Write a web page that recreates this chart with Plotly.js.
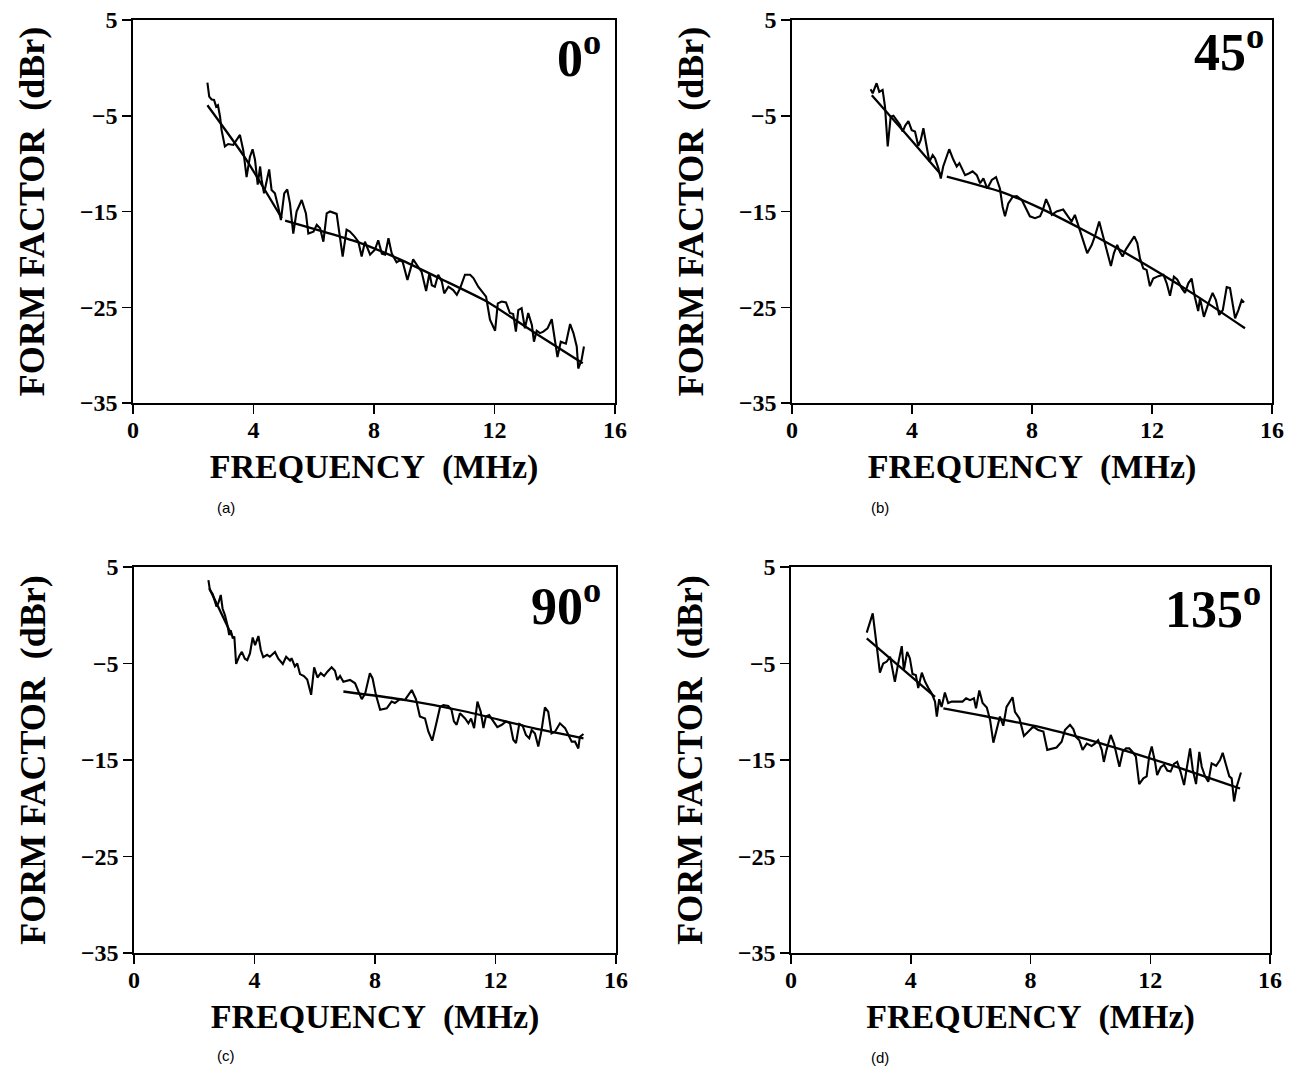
<!DOCTYPE html>
<html>
<head>
<meta charset="utf-8">
<script src="https://cdn.plot.ly/plotly-3.0.1.min.js"></script>
<style>html,body{margin:0;padding:0;background:#fff;}#chart{width:1302px;height:1075px;}</style>
</head>
<body>
<div id="chart"></div>
<script>
// ---------------- data ----------------
const xTicks = [0, 4, 8, 12, 16];
const yTicks = [5, -5, -15, -25, -35];
const panelAngles = ["0", "45", "90", "135"];
const panelCaptions = ["(a)", "(b)", "(c)", "(d)"];

// (a) 0 degrees
const aX = [2.47,2.53,2.61,2.69,2.76,2.82,2.89,2.94,3.05,3.16,3.33,3.44,3.55,3.66,3.77,3.88,3.97,4.05,4.14,4.22,4.27,4.35,4.44,4.52,4.6,4.71,4.82,4.91,5.02,5.12,5.21,5.32,5.43,5.6,5.74,5.82,5.99,6.1,6.21,6.32,6.43,6.54,6.76,6.87,6.96,7.09,7.2,7.35,7.48,7.59,7.7,7.87,8.03,8.14,8.26,8.37,8.48,8.59,8.75,8.86,8.95,9.11,9.3,9.47,9.58,9.73,9.84,9.92,10.02,10.13,10.25,10.33,10.47,10.63,10.75,10.86,11.02,11.19,11.3,11.46,11.63,11.72,11.85,12.02,12.11,12.24,12.38,12.51,12.62,12.71,12.79,12.9,13.01,13.12,13.24,13.31,13.4,13.51,13.62,13.76,13.9,13.98,14.09,14.2,14.37,14.51,14.62,14.73,14.78,14.89,14.97];
const aY = [-1.55,-3.0,-3.3,-3.35,-4.05,-3.9,-5.1,-6.5,-8.2,-7.95,-8.05,-7.5,-7.0,-8.6,-11.4,-9.3,-8.5,-9.6,-12.2,-10.3,-11.7,-13.1,-11.7,-10.6,-12.75,-13.1,-14.5,-15.9,-13.1,-12.7,-14.15,-17.3,-15.0,-13.8,-15.2,-17.3,-17.1,-16.4,-16.75,-18.15,-15.2,-15.0,-15.25,-17.6,-19.7,-16.9,-17.1,-17.6,-18.15,-19.7,-18.15,-19.5,-19.0,-18.0,-19.4,-19.5,-17.8,-19.4,-20.3,-20.1,-20.25,-22.15,-20.0,-20.8,-21.3,-23.3,-21.45,-22.7,-22.85,-21.6,-22.3,-23.55,-22.85,-23.2,-23.7,-23.0,-21.6,-21.6,-21.95,-22.85,-23.55,-23.9,-26.3,-27.45,-24.6,-24.4,-24.5,-25.6,-25.7,-27.55,-25.3,-25.1,-27.2,-25.6,-26.85,-28.6,-27.45,-27.7,-27.55,-27.2,-26.25,-28.1,-30.2,-28.6,-28.8,-26.75,-27.7,-29.1,-31.4,-30.5,-29.1];
const aFit1X = [2.47, 3.7, 4.94];
const aFit1Y = [-3.9, -9.3, -15.7];
const aFit2X = [5.05, 6.32, 7.42, 8.86, 10.19, 11.74, 13.28, 14.93];
const aFit2Y = [-15.96, -17.1, -18.15, -20.0, -22.0, -24.4, -27.55, -30.85];

// (b) 45 degrees
const bX = [2.62,2.69,2.82,2.91,3.02,3.1,3.19,3.29,3.38,3.51,3.6,3.69,3.77,3.88,3.99,4.1,4.21,4.29,4.38,4.47,4.58,4.69,4.77,4.88,4.96,5.04,5.24,5.38,5.49,5.58,5.77,5.91,6.02,6.16,6.27,6.38,6.51,6.66,6.8,6.93,7.02,7.1,7.21,7.36,7.49,7.66,7.8,7.93,8.1,8.27,8.36,8.47,8.58,8.66,8.82,9.04,9.21,9.32,9.43,9.54,9.66,9.84,9.99,10.1,10.24,10.38,10.49,10.63,10.73,10.84,10.93,11.02,11.13,11.27,11.41,11.51,11.6,11.71,11.82,11.93,12.04,12.21,12.38,12.49,12.6,12.73,12.84,12.99,13.1,13.21,13.32,13.43,13.54,13.6,13.73,13.88,14.02,14.13,14.24,14.36,14.49,14.6,14.69,14.77,14.88,14.99,15.07];
const bY = [-2.24,-2.65,-1.6,-2.5,-2.3,-4.05,-8.2,-5.1,-5.0,-5.6,-5.95,-6.65,-6.05,-5.55,-6.5,-6.65,-8.15,-7.55,-6.3,-7.9,-9.8,-9.1,-9.45,-10.5,-11.55,-10.3,-8.5,-9.6,-10.3,-9.95,-11.2,-11.0,-10.8,-11.2,-12.05,-11.55,-12.6,-11.7,-11.4,-12.6,-14.5,-15.5,-14.15,-13.45,-13.4,-13.8,-14.65,-15.5,-15.7,-15.5,-14.85,-13.7,-14.5,-15.35,-15.0,-14.8,-15.55,-16.05,-15.35,-16.4,-17.6,-19.35,-18.5,-17.55,-16.05,-17.8,-19.2,-20.7,-19.35,-18.5,-19.2,-19.7,-18.95,-18.3,-17.6,-18.3,-19.9,-20.95,-21.1,-22.8,-22.0,-21.75,-21.6,-22.5,-23.8,-21.8,-22.1,-23.0,-23.5,-22.5,-22.0,-23.95,-25.4,-24.05,-26.0,-24.6,-23.5,-24.25,-25.8,-25.3,-22.9,-23.0,-24.5,-26.15,-25.3,-24.25,-24.5];
const bFit1X = [2.66, 3.8, 4.93];
const bFit1Y = [-2.85, -6.9, -11.0];
const bFit2X = [5.16, 6.93, 8.27, 9.6, 10.93, 12.27, 13.6, 15.1];
const bFit2Y = [-11.35, -12.9, -14.65, -16.75, -19.0, -21.45, -24.05, -27.2];

// (c) 90 degrees
const cX = [2.47,2.52,2.61,2.69,2.74,2.8,2.88,2.94,3.02,3.1,3.16,3.21,3.28,3.33,3.39,3.5,3.58,3.68,3.76,3.85,3.94,4.02,4.13,4.21,4.29,4.42,4.51,4.68,4.79,4.94,5.05,5.18,5.23,5.34,5.42,5.51,5.64,5.75,5.88,5.98,6.09,6.2,6.31,6.42,6.56,6.67,6.75,6.84,6.95,7.17,7.34,7.45,7.56,7.67,7.83,7.92,8.03,8.17,8.39,8.55,8.66,8.83,8.99,9.22,9.36,9.49,9.66,9.77,9.9,10.05,10.16,10.27,10.43,10.54,10.62,10.71,10.82,10.99,11.1,11.19,11.29,11.4,11.51,11.6,11.68,11.79,11.93,12.06,12.21,12.35,12.48,12.59,12.68,12.79,12.9,13.01,13.12,13.2,13.31,13.42,13.53,13.64,13.75,13.86,13.98,14.14,14.31,14.42,14.53,14.64,14.75,14.8,14.92];
const cY = [3.65,2.6,2.2,1.4,0.9,1.25,2.1,0.7,0.0,-1.0,-2.05,-1.55,-2.4,-2.2,-5.05,-4.2,-3.8,-4.5,-4.65,-3.95,-2.3,-3.1,-2.15,-3.6,-4.35,-4.1,-4.3,-3.8,-4.5,-5.05,-4.3,-4.7,-4.45,-5.3,-5.0,-6.1,-6.3,-6.65,-8.25,-5.4,-6.45,-6.0,-6.3,-5.85,-5.4,-5.75,-6.7,-6.3,-6.9,-6.7,-7.05,-7.9,-8.7,-8.15,-6.0,-6.55,-8.25,-9.8,-9.65,-8.95,-9.1,-8.7,-8.8,-7.75,-8.7,-10.5,-10.7,-12.05,-13.0,-11.0,-9.5,-9.3,-9.4,-9.8,-11.0,-11.35,-10.15,-10.7,-11.2,-10.7,-11.7,-8.95,-10.0,-11.7,-10.5,-10.35,-11.0,-11.6,-11.35,-11.0,-11.2,-12.9,-13.25,-11.25,-11.45,-12.4,-12.75,-11.9,-12.25,-13.6,-11.9,-9.55,-10.0,-12.25,-12.05,-11.2,-11.7,-12.4,-13.1,-13.1,-13.8,-12.6,-12.3];
const cFit1X = [2.5, 3.25];
const cFit1Y = [2.8, -2.1];
const cFit2X = [6.95, 8.83, 11.04, 13.26, 14.92];
const cFit2Y = [-7.9, -8.7, -10.0, -11.7, -12.75];

// (d) 135 degrees
const dX = [2.53,2.73,2.86,2.97,3.08,3.2,3.31,3.4,3.47,3.58,3.7,3.77,3.88,3.97,4.06,4.17,4.25,4.37,4.48,4.59,4.7,4.81,4.87,4.95,5.03,5.14,5.25,5.37,5.53,5.73,5.85,5.98,6.11,6.18,6.29,6.4,6.54,6.65,6.76,6.87,6.98,7.09,7.2,7.4,7.48,7.63,7.78,7.93,8.09,8.26,8.43,8.56,8.71,8.87,9.04,9.15,9.32,9.43,9.52,9.63,9.74,9.88,10.04,10.15,10.26,10.38,10.45,10.54,10.68,10.79,10.88,10.97,11.08,11.19,11.3,11.41,11.52,11.63,11.77,11.88,11.97,12.05,12.16,12.23,12.35,12.46,12.57,12.68,12.79,12.9,13.01,13.13,13.22,13.33,13.42,13.53,13.64,13.72,13.83,13.94,14.05,14.2,14.33,14.42,14.53,14.64,14.72,14.8,14.89,14.96,15.03];
const dY = [-1.8,0.2,-3.1,-5.95,-5.0,-4.8,-4.3,-6.0,-6.9,-5.0,-3.2,-5.7,-3.8,-4.45,-6.1,-6.2,-7.55,-5.95,-6.9,-7.55,-8.1,-8.95,-10.5,-8.7,-9.5,-8.0,-9.1,-8.95,-8.95,-8.95,-8.6,-8.8,-8.6,-9.65,-7.8,-9.1,-9.55,-10.85,-13.2,-11.9,-10.5,-11.45,-9.5,-8.5,-10.0,-10.7,-12.5,-12.05,-11.55,-11.9,-12.05,-13.95,-13.8,-13.7,-13.1,-11.9,-11.35,-11.8,-12.6,-12.95,-13.95,-13.3,-13.55,-13.3,-12.95,-13.95,-15.2,-13.95,-12.4,-13.3,-14.5,-15.7,-14.15,-13.8,-13.8,-14.15,-14.65,-17.5,-16.9,-16.7,-14.5,-13.6,-15.2,-16.55,-15.75,-15.5,-16.1,-16.2,-15.4,-15.2,-16.2,-17.6,-15.85,-13.8,-16.0,-17.5,-14.15,-15.7,-16.7,-17.25,-15.35,-15.6,-15.0,-14.25,-15.5,-16.7,-16.9,-19.3,-17.75,-16.9,-16.3];
const dFit1X = [2.53, 4.81];
const dFit1Y = [-2.4, -8.45];
const dFit2X = [5.09, 8.32, 10.54, 12.77, 15.0];
const dFit2Y = [-9.65, -11.6, -13.45, -15.6, -17.95];

// ---------------- layout ----------------
const W = 1302, H = 1075;
const px = v => v / W;
const py = v => 1 - v / H;

// plot-area pixel boxes [left, right, top, bottom]
const boxes = [
  [133, 615, 20, 403],
  [792, 1272, 20, 403],
  [134, 616, 567, 953],
  [791, 1270, 567, 953]
];

const serif = "Liberation Serif, Times New Roman, serif";
const noisy = [[aX, aY], [bX, bY], [cX, cY], [dX, dY]];
const fits = [
  [[aFit1X, aFit1Y], [aFit2X, aFit2Y]],
  [[bFit1X, bFit1Y], [bFit2X, bFit2Y]],
  [[cFit1X, cFit1Y], [cFit2X, cFit2Y]],
  [[dFit1X, dFit1Y], [dFit2X, dFit2Y]]
];

const traces = [];
noisy.forEach((s, i) => {
  const xa = i === 0 ? 'x' : 'x' + (i + 1);
  const ya = i === 0 ? 'y' : 'y' + (i + 1);
  traces.push({x: s[0], y: s[1], xaxis: xa, yaxis: ya, type: 'scatter', mode: 'lines',
    line: {color: '#000', width: 2.1}, showlegend: false, hoverinfo: 'skip'});
  fits[i].forEach(f => {
    traces.push({x: f[0], y: f[1], xaxis: xa, yaxis: ya, type: 'scatter', mode: 'lines',
      line: {color: '#000', width: 2.3, shape: 'spline', smoothing: 0.6}, showlegend: false, hoverinfo: 'skip'});
  });
});

const layout = {
  width: W, height: H,
  margin: {l: 0, r: 0, t: 0, b: 0},
  paper_bgcolor: '#fff', plot_bgcolor: '#fff',
  showlegend: false,
  annotations: []
};

boxes.forEach((b, i) => {
  const n = i === 0 ? '' : String(i + 1);
  const xa = {
    domain: [px(b[0]), px(b[1])],
    anchor: 'y' + n,
    range: [0, 16],
    tickvals: xTicks, ticktext: xTicks.map(String),
    showline: true, mirror: true, linecolor: '#000', linewidth: 1.6,
    ticks: 'outside', ticklen: 9, tickwidth: 1.5, tickcolor: '#000',
    ticklabelstandoff: -4,
    showgrid: false, zeroline: false,
    tickfont: {family: serif, size: 24, color: '#000', weight: 'bold'},
    title: {text: 'FREQUENCY\u00a0\u00a0(MHz)', standoff: 12,
      font: {family: serif, size: 34, color: '#000', weight: 'bold'}},
    automargin: false
  };
  const ya = {
    domain: [py(b[3]), py(b[2])],
    anchor: 'x' + n,
    range: [-35, 5],
    tickvals: yTicks, ticktext: yTicks.map(v => v < 0 ? '\u2212' + Math.abs(v) : String(v)),
    showline: true, mirror: true, linecolor: '#000', linewidth: 1.6,
    ticks: 'outside', ticklen: 9, tickwidth: 1.5, tickcolor: '#000',
    showgrid: false, zeroline: false,
    tickfont: {family: serif, size: 24, color: '#000', weight: 'bold'},
    title: {text: 'FORM\u00a0FACTOR\u00a0\u00a0(dBr)', standoff: 24,
      font: {family: serif, size: 36, color: '#000', weight: 'bold'}},
    automargin: false
  };
  layout['xaxis' + n] = xa;
  layout['yaxis' + n] = ya;
});

// angle labels (right edge px, top px)
const anglePos = [[603, 20], [1266, 14], [603, 568], [1263, 571]];
panelAngles.forEach((a, i) => {
  layout.annotations.push({
    text: a + '<sup>o</sup>', xref: 'paper', yref: 'paper',
    x: px(anglePos[i][0]), y: py(anglePos[i][1]), xanchor: 'right', yanchor: 'top',
    showarrow: false,
    font: {family: serif, size: 52, color: '#000', weight: 'bold'}
  });
});

// sub-captions
const capPos = [[226, 508], [880, 508], [226, 1055], [880, 1057]];
panelCaptions.forEach((c, i) => {
  layout.annotations.push({
    text: c, xref: 'paper', yref: 'paper',
    x: px(capPos[i][0]), y: py(capPos[i][1]), xanchor: 'center', yanchor: 'middle',
    showarrow: false,
    font: {family: 'Liberation Sans, Arial, sans-serif', size: 15, color: '#000'}
  });
});

Plotly.newPlot('chart', traces, layout, {displayModeBar: false, staticPlot: true});
</script>
</body>
</html>
